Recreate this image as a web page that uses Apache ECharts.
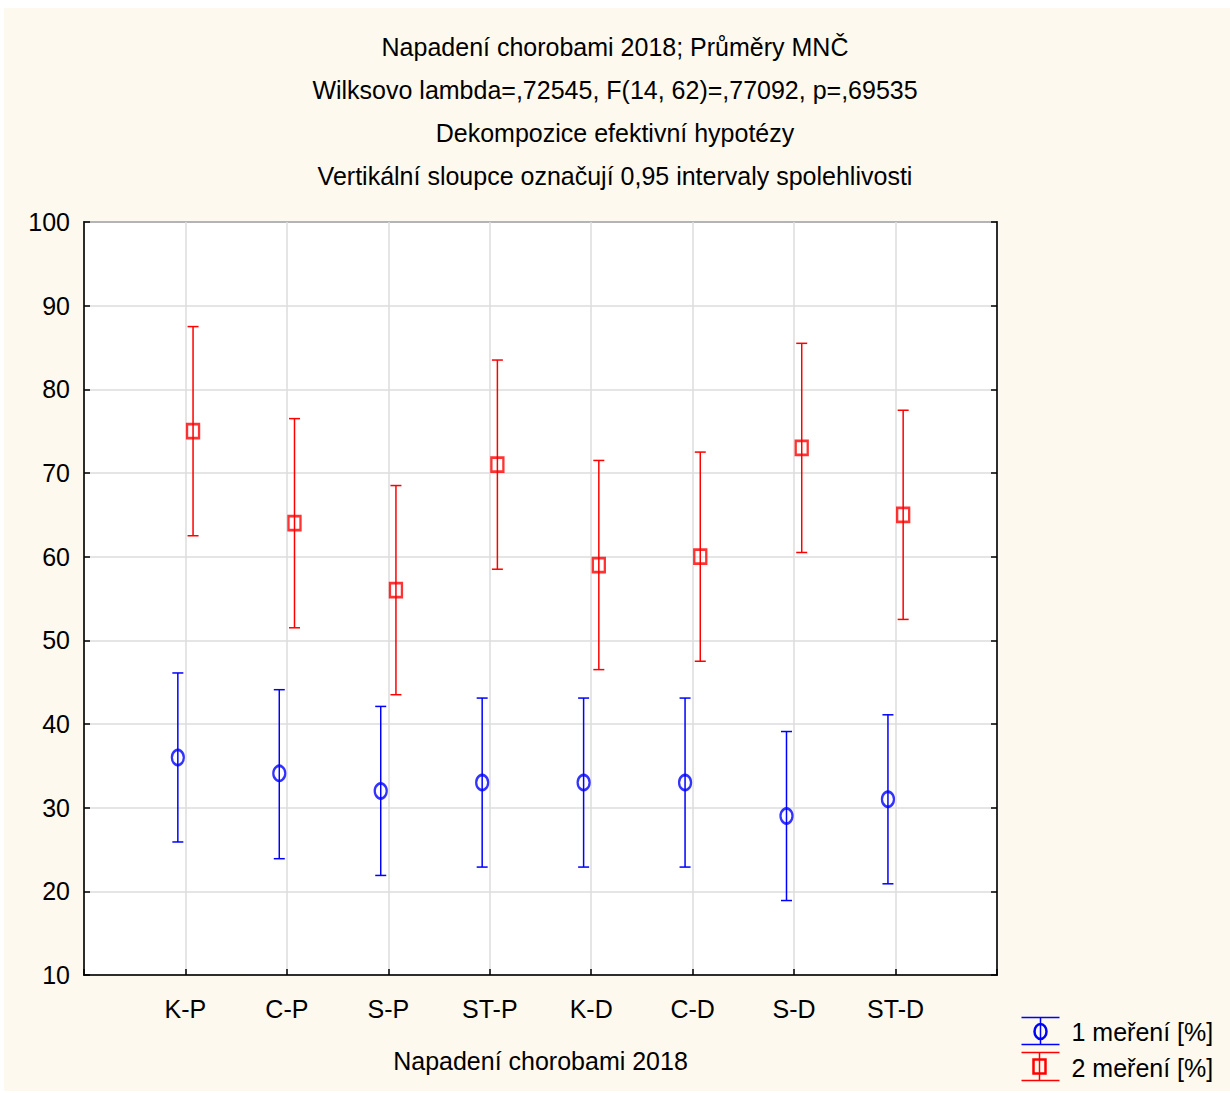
<!DOCTYPE html>
<html><head><meta charset="utf-8">
<script src="https://cdn.jsdelivr.net/npm/echarts@6/dist/echarts.min.js"></script>
<style>
html,body{margin:0;padding:0;background:#fff;}
#bg{position:absolute;left:4px;top:8px;width:1226px;height:1083px;background:#fdf9ee;}
#c{position:absolute;left:0;top:0;width:1230px;height:1093px;}
</style></head>
<body><div id="bg"></div><div id="c"></div>
<script>
const categories = ['K-P','C-P','S-P','ST-P','K-D','C-D','S-D','ST-D'];
const mean1 = [36.0, 34.1, 32.0, 33.0, 33.0, 33.0, 29.0, 31.0];
const low1  = [25.9, 23.9, 21.9, 22.9, 22.9, 22.9, 18.9, 20.9];
const high1 = [46.1, 44.1, 42.1, 43.1, 43.1, 43.1, 39.1, 41.1];
const mean2 = [75.0, 64.0, 56.0, 71.0, 59.0, 60.0, 73.0, 65.0];
const low2  = [62.5, 51.5, 43.5, 58.5, 46.5, 47.5, 60.5, 52.5];
const high2 = [87.5, 76.5, 68.5, 83.5, 71.5, 72.5, 85.5, 77.5];
const yTicks = [10,20,30,40,50,60,70,80,90,100];
const titleLines = ['Napadení chorobami 2018; Průměry MNČ','Wilksovo lambda=,72545, F(14, 62)=,77092, p=,69535','Dekompozice efektivní hypotézy','Vertikální sloupce označují 0,95 intervaly spolehlivosti'];
const xName = 'Napadení chorobami 2018';
const seriesNames = ['1 meření [%]','2 meření [%]'];

const FONT = '"Liberation Sans",Arial,sans-serif';
const FS = 25;
const BLUE = '#0000ff', RED = '#ff0000';
const OFF = 0.075;

function errData(lo, hi, off){ return categories.map((c,i)=>[i+1+off, lo[i], hi[i]]); }
function meanData(m, off){ return categories.map((c,i)=>[i+1+off, m[i]]); }
function errRender(color){
  return function(params, api){
    const x = api.value(0);
    const pl = api.coord([x, api.value(1)]);
    const ph = api.coord([x, api.value(2)]);
    const w = 5.5;
    const st = {stroke: color, lineWidth: 1.5};
    return {type:'group', children:[
      {type:'line', shape:{x1:pl[0],y1:pl[1],x2:ph[0],y2:ph[1]}, style:st},
      {type:'line', shape:{x1:pl[0]-w,y1:pl[1],x2:pl[0]+w,y2:pl[1]}, style:st},
      {type:'line', shape:{x1:ph[0]-w,y1:ph[1],x2:ph[0]+w,y2:ph[1]}, style:st}
    ]};
  };
}

const chart = echarts.init(document.getElementById('c'), null, {renderer:'svg'});
const option = {
  backgroundColor: 'transparent',
  animation: false,
  title: {
    text: titleLines.join('\n'),
    left: 'center', top: 25, padding: 0,
    textStyle: {fontFamily: FONT, fontSize: FS, fontWeight: 'normal', color: '#000', lineHeight: 43}
  },
  grid: {left: 84, right: 233, top: 222, bottom: 118, show: true, backgroundColor: '#fff', borderColor: '#000', borderWidth: 1.5},
  xAxis: {
    type: 'value', min: 0, max: 9, interval: 1,
    name: xName, nameLocation: 'middle', nameGap: 73,
    nameTextStyle: {fontFamily: FONT, fontSize: FS, color: '#000'},
    axisLine: {show: true, onZero: false, lineStyle: {color: '#000', width: 1.5}},
    axisTick: {show: true, inside: true, length: 6, lineStyle: {color: '#000', width: 1.5}},
    axisLabel: {margin: 21, fontFamily: FONT, fontSize: FS, color: '#000',
      formatter: v => categories[v-1] || ''},
    splitLine: {show: true, lineStyle: {color: '#dcdcdc', width: 1.5}}
  },
  yAxis: [{
    type: 'value', min: yTicks[0], max: yTicks[yTicks.length-1], interval: 10,
    axisLine: {show: true, lineStyle: {color: '#000', width: 1.5}},
    axisTick: {show: true, inside: true, length: 6, lineStyle: {color: '#000', width: 1.5}},
    axisLabel: {margin: 14, fontFamily: FONT, fontSize: FS, color: '#000'},
    splitLine: {show: true, lineStyle: {color: '#dcdcdc', width: 1.5}}
  },{
    type: 'value', position: 'right', min: yTicks[0], max: yTicks[yTicks.length-1], interval: 10,
    axisLine: {show: true, lineStyle: {color: '#000', width: 1.5}},
    axisTick: {show: true, inside: true, length: 6, lineStyle: {color: '#000', width: 1.5}},
    axisLabel: {show: false}, splitLine: {show: false}
  }],
  series: [
    {name: seriesNames[0], type: 'scatter', z: 2, symbol: 'circle', symbolSize: [12, 15],
     itemStyle: {color: 'rgba(255,255,255,0)', borderColor: BLUE, borderWidth: 2.5},
     data: meanData(mean1, -OFF)},
    {name: seriesNames[1], type: 'scatter', z: 2, symbol: 'rect', symbolSize: [12, 14],
     itemStyle: {color: 'rgba(255,255,255,0)', borderColor: RED, borderWidth: 2.5},
     data: meanData(mean2, OFF)},
    {type: 'custom', z: 3, renderItem: errRender(BLUE), data: errData(low1, high1, -OFF), encode: {x: 0, y: [1,2]}},
    {type: 'custom', z: 3, renderItem: errRender(RED), data: errData(low2, high2, OFF), encode: {x: 0, y: [1,2]}}
  ],
  graphic: [
    {type:'group', left: 1019, top: 1015, children: [
      {type:'line', shape:{x1:0,y1:1,x2:38,y2:1}, style:{stroke:BLUE,lineWidth:1.5}},
      {type:'line', shape:{x1:0,y1:28,x2:38,y2:28}, style:{stroke:BLUE,lineWidth:1.5}},
      {type:'line', shape:{x1:19,y1:1,x2:19,y2:28}, style:{stroke:BLUE,lineWidth:1.5}},
      {type:'ellipse', shape:{cx:19,cy:15,rx:6,ry:7.5}, style:{fill:'none',stroke:BLUE,lineWidth:2.5}},
      {type:'text', x: 50, y: 15, style:{text: seriesNames[0], fontFamily: FONT, fontSize: FS, fill:'#000', verticalAlign:'middle'}}
    ]},
    {type:'group', left: 1019, top: 1050, children: [
      {type:'line', shape:{x1:0,y1:1,x2:38,y2:1}, style:{stroke:RED,lineWidth:1.5}},
      {type:'line', shape:{x1:0,y1:29,x2:38,y2:29}, style:{stroke:RED,lineWidth:1.5}},
      {type:'line', shape:{x1:18,y1:1,x2:18,y2:29}, style:{stroke:RED,lineWidth:1.5}},
      {type:'rect', shape:{x:12,y:8,width:12,height:14}, style:{fill:'none',stroke:RED,lineWidth:2.5}},
      {type:'text', x: 50, y: 16, style:{text: seriesNames[1], fontFamily: FONT, fontSize: FS, fill:'#000', verticalAlign:'middle'}}
    ]}
  ]
};
chart.setOption(option);
</script></body></html>
